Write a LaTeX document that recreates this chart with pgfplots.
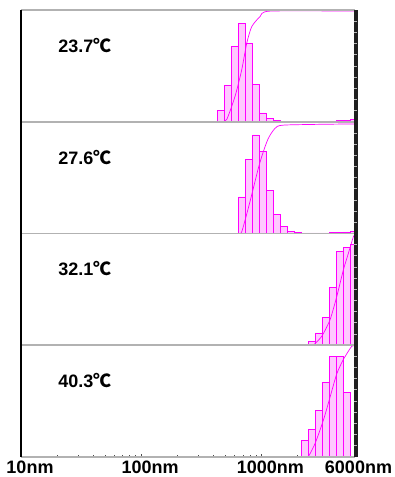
\documentclass[border=0pt]{standalone}
\usepackage{pgfplots}
\pgfplotsset{compat=1.18}
\usepackage{fontspec}
\setmainfont{Liberation Sans}
\newfontfamily\cjk{Noto Sans CJK SC}
\usetikzlibrary{calc}
\definecolor{mag}{RGB}{255,0,255}
\definecolor{pinkfill}{RGB}{255,200,255}
\newcommand{\plab}[1]{\node[anchor=base west, inner sep=0pt, font=\fontsize{18}{18}\selectfont\bfseries] at (rel axis cs:0.111,0.62) {#1{\cjk\bfseries ℃}};}
\begin{document}
\begin{tikzpicture}
\useasboundingbox (0,0) rectangle (395pt,-477pt);
% Panel 1
\begin{axis}[xmode=log, xmin=10, xmax=6000, ymin=0, ymax=101,
    width=334pt, height=111.7pt, scale only axis,
    axis line style={draw=none}, ytick=\empty, xtick=\empty,
    xtick style={draw=none}, ytick style={draw=none},
    anchor=north west, name=a1, at={(21pt,-10pt)}]
\addplot[fill=pinkfill, draw=mag, line width=0.7pt, const plot mark left] coordinates {(429.7,10)(491.2,33)(561.8,68)(642.5,89)(734.6,71)(840.2,34)(960.7,8)(1098.5,3)(1256,0.8)(1436.5,0.4)(1642.7,0.4)(1878.5,0.4)(2147.8,0.4)(2455.9,0.4)(2808.7,0.4)(3211.6,0.5)(3672.8,0.7)(4199.5,1)(4801.7,1.4)(5491.2,2)(6279.7,0)} \closedcycle;
\addplot[ycomb, draw=mag, line width=0.7pt, no marks] coordinates {(491.2,33)(561.8,68)(642.5,89)(734.6,89)(840.2,71)(960.7,34)(1098.5,8)};
\addplot[draw=mag, line width=0.7pt, smooth, tension=0.4, no marks] coordinates {(470,0)(514.4,2)(603.3,23)(685.7,47)(754.6,71)(830.6,86)(973.6,95)(1179,100)(6000,100)};
\plab{23.7}
\end{axis}
% Panel 2
\begin{axis}[xmode=log, xmin=10, xmax=6000, ymin=0, ymax=101,
    width=334pt, height=111.7pt, scale only axis,
    axis line style={draw=none}, ytick=\empty, xtick=\empty,
    xtick style={draw=none}, ytick style={draw=none},
    anchor=north west, name=a2, at={(21pt,-121.7pt)}]
\addplot[fill=pinkfill, draw=mag, line width=0.7pt, const plot mark left] coordinates {(642.5,33)(734.6,67)(840.2,89)(960.7,74)(1098.5,39)(1256,17)(1436.5,6)(1642.7,2)(1878.5,0.8)(2147.8,0.4)(2455.9,0.4)(2808.7,0.4)(3211.6,0.5)(3672.8,0.7)(4199.5,1)(4801.7,1.4)(5491.2,2)(6279.7,0)} \closedcycle;
\addplot[ycomb, draw=mag, line width=0.7pt, no marks] coordinates {(734.6,67)(840.2,89)(960.7,89)(1098.5,74)(1256,39)(1436.5,17)(1642.7,6)};
\addplot[draw=mag, line width=0.7pt, smooth, tension=0.4, no marks] coordinates {(640,0)(685.7,1.5)(804.1,29)(942.3,59)(1037,74)(1141.5,86)(1298,95)(1571,98)(6000,99)};
\plab{27.6}
\end{axis}
% Panel 3
\begin{axis}[xmode=log, xmin=10, xmax=6000, ymin=0, ymax=101,
    width=334pt, height=111.7pt, scale only axis,
    axis line style={draw=none}, ytick=\empty, xtick=\empty,
    xtick style={draw=none}, ytick style={draw=none},
    anchor=north west, name=a3, at={(21pt,-233.4pt)}]
\addplot[fill=pinkfill, draw=mag, line width=0.7pt, const plot mark left] coordinates {(2455.9,3)(2808.7,11)(3211.6,25)(3672.8,52)(4199.5,85)(4801.7,88)(5491.2,91)(6279.7,0)} \closedcycle;
\addplot[ycomb, draw=mag, line width=0.7pt, no marks] coordinates {(2808.7,11)(3211.6,25)(3672.8,52)(4199.5,85)(4801.7,88)(5491.2,91)};
\addplot[draw=mag, line width=0.7pt, smooth, tension=0.4, no marks] coordinates {(2703,0)(3175,8)(3722,23)(4232,44)(4802,68)(5284,83)(5816,98)(6000,100)};
\plab{32.1}
\end{axis}
% Panel 4
\begin{axis}[xmode=log, xmin=10, xmax=6000, ymin=0, ymax=101,
    width=334pt, height=111.7pt, scale only axis,
    axis line style={draw=none}, ytick=\empty, ytick style={draw=none},
    anchor=north west, name=a4, at={(21pt,-345.1pt)},
    xtick={10,100,1000}, xticklabels={10nm,100nm,1000nm},
    minor xtick={20,30,40,50,60,70,80,90,200,300,400,500,600,700,800,900,2000,3000,4000,5000},
    xtick pos=bottom, xtick align=inside,
    major tick length=2.5pt, minor tick length=2pt,
    xtick style={gray!60!black, line width=0.6pt},
    xticklabel style={font=\fontsize{18}{18}\selectfont\bfseries, anchor=north, inner sep=0pt, yshift=-4pt, xshift=9pt},
    extra x ticks={6000}, extra x tick labels={6000nm},
    extra x tick style={xticklabel style={xshift=-5.5pt}},
]
\addplot[fill=pinkfill, draw=mag, line width=0.7pt, const plot mark left] coordinates {(2147.8,15)(2455.9,25)(2808.7,42)(3211.6,67)(3672.8,91)(4199.5,91)(4801.7,58)(5491.2,0)} \closedcycle;
\addplot[ycomb, draw=mag, line width=0.7pt, no marks] coordinates {(2455.9,25)(2808.7,42)(3211.6,67)(3672.8,91)(4199.5,91)(4801.7,91)};
\addplot[draw=mag, line width=0.7pt, smooth, tension=0.4, no marks] coordinates {(2456,0)(2792,12)(3273,33)(3722,54)(4232,75)(4802,88)(5638,100)(6000,100)};
\plab{40.3}
\end{axis}
% frames
\foreach \a in {a1,a2,a3,a4}{
  \draw[gray!60, line width=1.6pt] (\a.north west) -- (\a.north east);
  \draw[gray!60, line width=1.6pt] (\a.south west) -- (\a.south east);
}
\draw[black, line width=1.6pt] (a1.north west) -- (a4.south west);
\draw[gray!25!black, line width=4pt] ([xshift=0.5pt]a1.north east) -- ([xshift=0.5pt]a4.south east);
\foreach \a in {a1,a2,a3,a4}{
  \foreach \i in {1,...,9}{
    \draw[gray!55, line width=0.6pt] ($(\a.south east)!\i/10!(\a.north east)$) ++(-1pt,0) -- ++(3pt,0);
  }
}
\end{tikzpicture}
\end{document}
